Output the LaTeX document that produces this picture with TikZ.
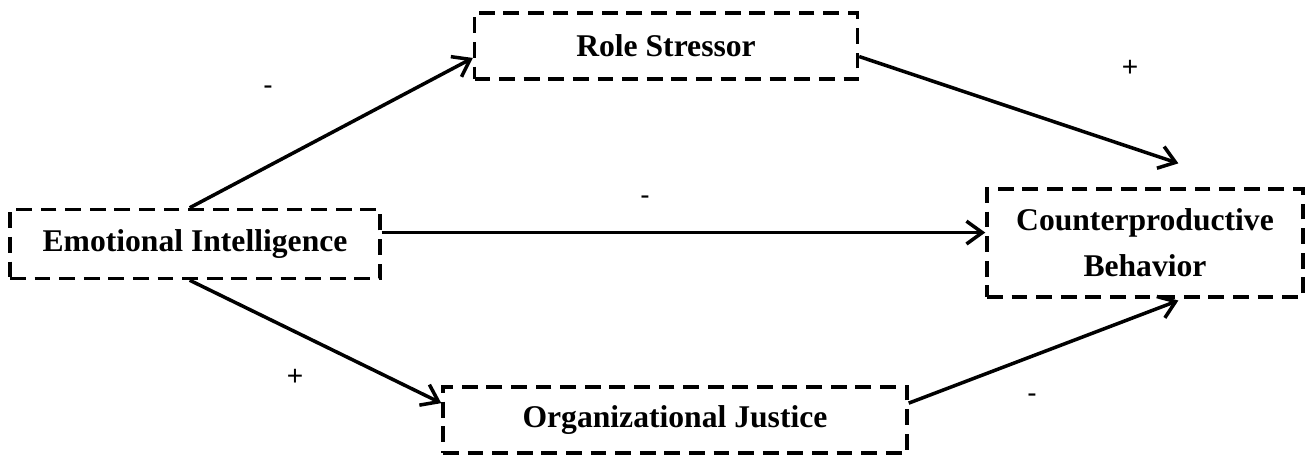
\documentclass[tikz,border=0pt]{standalone}
\usepackage{fontspec}
\setmainfont{Liberation Serif}
\setsansfont{Liberation Sans}
\usepackage{tikz}
\usetikzlibrary{arrows.meta}

\begin{document}
\begin{tikzpicture}[x=0.02cm, y=-0.02cm, line width=2pt,
    >={Straight Barb[length=9pt,width=13pt]},
    box/.style={draw, dash pattern=on 9pt off 5pt, align=center, inner sep=0pt,
      font=\bfseries\fontsize{18}{26}\selectfont},
    sign/.style={font=\sffamily\fontsize{16}{18}\selectfont}]
			\useasboundingbox (0,0) rectangle (1306,457);
			% constructs
			\node[box, minimum width=7.4cm, minimum height=1.38cm] (emo) at (195,244) {Emotional Intelligence};
			\node[box, minimum width=7.66cm, minimum height=1.32cm] (role) at (666,46) {Role Stressor};
			\node[box, minimum width=6.32cm, minimum height=2.16cm] (cpb) at (1145,243) {Counterproductive\\Behavior};
			\node[box, minimum width=9.28cm, minimum height=1.32cm] (org) at (675,420) {Organizational Justice};
			% paths
			\draw[->] ([xshift=-3pt]emo.north) -- ([yshift=-6.8pt]role.west);
			\draw[->] ([yshift=-6pt]role.east) -- ([xshift=19pt,yshift=13.6pt]cpb.north);
			\draw[->] ([yshift=6.5pt]emo.east) -- ([yshift=6.5pt]emo.east -| cpb.west);
			\draw[->] ([xshift=-3pt]emo.south) -- ([yshift=9.6pt]org.west);
			\draw[->] ([yshift=9.6pt]org.east) -- ([xshift=19pt,yshift=-1pt]cpb.south);
			% signs
			\node[sign] (s1) at (268,90) {-};
			\node[sign] (s2) at (1130,68) {+};
			\node[sign] (s3) at (645,200) {-};
			\node[sign] (s4) at (295,377) {+};
			\node[sign] (s5) at (1032,398) {-};
		\end{tikzpicture}
\end{document}
